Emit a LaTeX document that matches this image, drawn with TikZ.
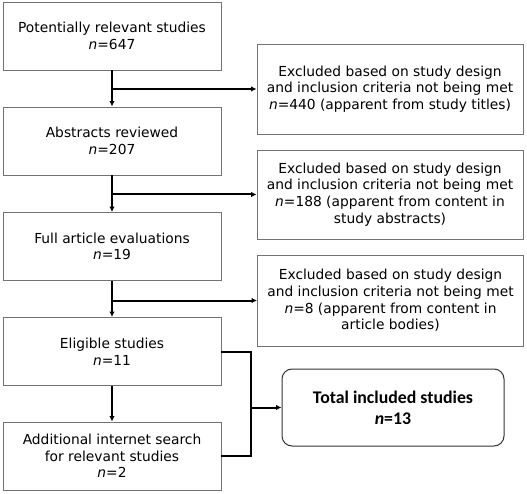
\documentclass[tikz,border=0pt]{standalone}
\usepackage{fontspec}
\setmainfont{DejaVu Sans}
\newfontfamily\calib{Carlito}
\usetikzlibrary{arrows.meta}
\begin{document}
\begin{tikzpicture}[x=1pt,y=-1pt,
  box/.style={draw=black!55,line width=0.9pt,fill=white,align=center,inner sep=0pt,
    font=\fontsize{13.8}{16.7}\selectfont},
  lbox/.style={box,minimum width=218pt,minimum height=68pt},
  rbox/.style={box,minimum width=266pt},
  tbox/.style={draw=black!80,line width=1pt,rounded corners=10pt,align=center,
    minimum width=222pt,minimum height=77pt,font=\calib\fontsize{17.8}{21}\selectfont\bfseries},
  conn/.style={line width=2pt,black},
  arr/.style={conn,-{Latex[length=5.5pt,width=5.5pt]}}]
\useasboundingbox (0,0) rectangle (527,494);
\node[lbox] (b1) at (112,36) {Potentially relevant studies\\\textit{n}=647};
\node[lbox] (b2) at (112,141) {Abstracts reviewed\\\textit{n}=207};
\node[lbox] (b3) at (112,246.5) {Full article evaluations\\\textit{n}=19};
\node[lbox] (b4) at (112,351.5) {Eligible studies\\\textit{n}=11};
\node[lbox] (b5) at (112,456) {Additional internet search\\for relevant studies\\\textit{n}=2};
\node[rbox,minimum height=90pt] (r1) at (390,89) {Excluded based on study design\\and inclusion criteria not being met\\\textit{n}=440 (apparent from study titles)};
\node[rbox,minimum height=89pt] (r2) at (390,194.5) {Excluded based on study design\\and inclusion criteria not being met\\\textit{n}=188 (apparent from content in\\study abstracts)};
\node[rbox,minimum height=91pt] (r3) at (390.5,300.5) {Excluded based on study design\\and inclusion criteria not being met\\\textit{n}=8 (apparent from content in\\article bodies)};
\node[tbox] (tot) at (393,407.5) {Total included studies\\\textit{n}=13};
\coordinate (j1) at (b1.south |- r1.west);
\coordinate (j2) at (b2.south |- r2.west);
\coordinate (j3) at (b3.south |- r3.west);
\coordinate (k1) at (251,351.5);
\coordinate (k2) at (251,456);
\coordinate (k3) at (251,407.5);
\draw[arr] (b1.south) -- (b2.north);
\draw[arr] (b2.south) -- (b3.north);
\draw[arr] (b3.south) -- (b4.north);
\draw[arr] (b4.south) -- (b5.north);
\draw[arr] (j1) -- (r1.west);
\draw[arr] (j2) -- (r2.west);
\draw[arr] (j3) -- (r3.west);
\draw[conn] (b4.east) -- (k1) -- (k2) -- (b5.east);
\draw[arr] (k3) -- (tot.west);
\end{tikzpicture}
\end{document}
